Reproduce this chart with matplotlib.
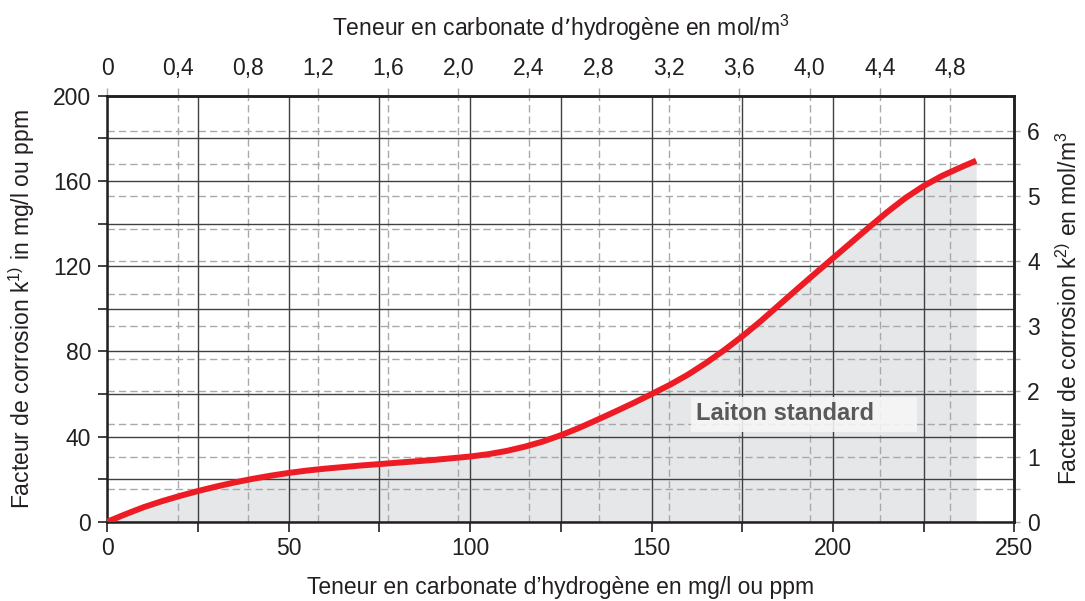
#!/usr/bin/env python
# -*- coding: utf-8 -*-

import matplotlib
matplotlib.use("Agg")
import matplotlib.pyplot as plt
from matplotlib.patches import Rectangle

plt.rcParams['font.family'] = ['Liberation Sans', 'DejaVu Sans']
plt.rcParams['mathtext.default'] = 'regular'

# courbe du laiton standard : teneur HCO3- (mg/l) -> facteur de corrosion (ppm)
teneur_mgl = [0, 5, 10, 15, 20, 25, 30, 35, 40, 45, 50, 55, 60, 70, 80, 90,
              100, 105, 110, 115, 120, 125, 130, 135, 140, 145, 150, 155,
              160, 165, 170, 175, 180, 185, 190, 195, 200, 205, 210, 215,
              220, 225, 230, 235, 239.5]
facteur_ppm = [0, 3.5, 6.8, 9.6, 12.1, 14.4, 16.5, 18.4, 20.1, 21.6, 22.9,
               24.0, 24.9, 26.4, 27.7, 29.0, 30.6, 31.7, 33.2, 35.2, 37.6,
               40.6, 44.0, 47.8, 51.7, 55.7, 59.9, 64.2, 69.0, 74.5, 80.5,
               87.0, 94.0, 101.5, 109.0, 116.4, 123.7, 131.0, 138.3, 145.4,
               152.0, 157.6, 162.3, 166.2, 169.5]

# graduations
x_ticks = [0, 25, 50, 75, 100, 125, 150, 175, 200, 225, 250]
x_labels = ['0', '', '50', '', '100', '', '150', '', '200', '', '250']
y_ticks = [0, 20, 40, 60, 80, 100, 120, 140, 160, 180, 200]
y_labels = ['0', '', '40', '', '80', '', '120', '', '160', '', '200']
mol_x_ticks = [0, 0.4, 0.8, 1.2, 1.6, 2.0, 2.4, 2.8, 3.2, 3.6, 4.0, 4.4, 4.8]
mol_x_labels = ['0', '0,4', '0,8', '1,2', '1,6', '2,0', '2,4', '2,8', '3,2',
                '3,6', '4,0', '4,4', '4,8']
mol_y_ticks = [0, 0.5, 1, 1.5, 2, 2.5, 3, 3.5, 4, 4.5, 5, 5.5, 6]
mol_y_labels = ['0', '', '1', '', '2', '', '3', '', '4', '', '5', '', '6']

# conversions d'echelle des axes secondaires
MGL_PER_MOL = 48.4
PPM_PER_MOL = 30.57

INK = '#231f20'
GRID = '#404040'
DASH = '#a7a9ac'
FS = 16.5

fig = plt.figure(figsize=(10.85, 6.01), dpi=100)
ax = fig.add_axes([107.3 / 1085, 79.3 / 601, 907 / 1085, 426 / 601])
ax.set_xlim(0, 250)
ax.set_ylim(0, 200)
ax.set_axisbelow(True)

ax.fill_between(teneur_mgl, 0, facteur_ppm, color='#e6e7e8', lw=0, zorder=0.2)

ax.set_xticks(x_ticks, labels=x_labels)
ax.set_yticks(y_ticks, labels=y_labels)
ax.grid(True, color=GRID, lw=1.0, ls='-')

for m in mol_x_ticks[1:]:
    ax.axvline(m * MGL_PER_MOL, color=DASH, lw=1.0, dashes=(5.3, 2.9),
               zorder=0.4)
for m in mol_y_ticks[1:]:
    ax.axhline(m * PPM_PER_MOL, color=DASH, lw=1.0, dashes=(5.3, 2.9),
               zorder=0.4)

ax.plot(teneur_mgl, facteur_ppm, color='#ed1c24', lw=4.3,
        solid_capstyle='butt', solid_joinstyle='round', zorder=5)

# etiquette de la courbe
ax.add_patch(Rectangle((160.9, 42.3), 62.3, 16.4, facecolor='#f6f6f6',
                       edgecolor='none', alpha=0.88, zorder=6))
ax.text(162.4, 50.6, 'Laiton standard', fontsize=17, fontweight='bold',
        color='#58595b', va='center', ha='left', zorder=7)

for s in ax.spines.values():
    s.set_color(INK)
    s.set_linewidth(1.8)
ax.tick_params(axis='x', length=7.2, width=1.2, color=INK, pad=3.5,
               labelsize=FS, labelcolor=INK)
ax.tick_params(axis='y', length=6.5, width=1.2, color=INK, pad=5,
               labelsize=FS, labelcolor=INK)

ax.set_xlabel('Teneur en carbonate d’hydrogène en mg/l ou ppm',
              fontsize=FS, color=INK)
ax.xaxis.set_label_coords(0.5, -0.128)
ax.set_ylabel('Facteur de corrosion k$^{1)}$ in mg/l ou ppm',
              fontsize=FS, color=INK)
ax.yaxis.set_label_coords(-0.078, 0.5)

# axe du haut en mol/m3
top = ax.secondary_xaxis('top', functions=(lambda v: v / MGL_PER_MOL,
                                           lambda m: m * MGL_PER_MOL))
top.set_xticks(mol_x_ticks, labels=mol_x_labels)
top.tick_params(length=5.8, width=1.0, color=DASH, pad=5.5,
                labelsize=FS, labelcolor=INK)
top.spines['top'].set_color(INK)
top.spines['top'].set_linewidth(1.8)
top.set_xlabel('Teneur en carbonate d’hydrogène en mol/m$^3$',
               fontsize=FS, color=INK, labelpad=15)

# axe de droite en mol/m3
right = ax.secondary_yaxis('right', functions=(lambda v: v / PPM_PER_MOL,
                                               lambda m: m * PPM_PER_MOL))
right.set_yticks(mol_y_ticks, labels=mol_y_labels)
right.tick_params(length=4.3, width=1.0, color=DASH, pad=5,
                  labelsize=FS, labelcolor=INK)
right.spines['right'].set_color(INK)
right.spines['right'].set_linewidth(1.8)
right.set_ylabel('Facteur de corrosion k$^{2)}$ en mol/m$^3$',
                 fontsize=FS, color=INK, labelpad=12)

fig.savefig('out.png', dpi=100)
